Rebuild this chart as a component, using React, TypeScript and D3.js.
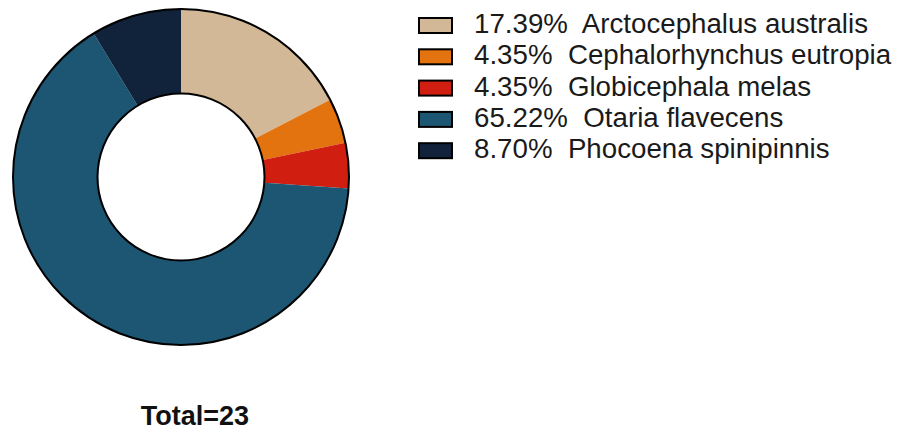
import React, { useRef, useEffect } from 'react';
import * as d3 from 'd3';

// species counts read from the donut (total 23)
const species = ['Arctocephalus australis', 'Cephalorhynchus eutropia', 'Globicephala melas', 'Otaria flavecens', 'Phocoena spinipinnis'];
const counts = [4, 1, 1, 15, 2];
const colors = ['#D2B896', '#E3730F', '#D01F10', '#1D5673', '#11233A'];

const App = () => {
  const svgRef = useRef<SVGSVGElement>(null);

  useEffect(() => {
    const width = 903;
    const height = 432;
    const cx = 181;
    const cy = 177;
    const outerR = 168;
    const innerR = 83.5;

    const svg = d3.select(svgRef.current)
      .attr('width', width)
      .attr('height', height);
    svg.selectAll('*').remove();

    const data = species.map((name, i) => ({ name, count: counts[i], color: colors[i] }));
    const total = d3.sum(counts);

    // --- donut ---
    const pie = d3.pie<any>().sort(null).value(d => d.count);
    const arc = d3.arc<any>().innerRadius(innerR).outerRadius(outerR);

    const g = svg.append('g').attr('transform', `translate(${cx},${cy})`);
    g.selectAll('path.slice')
      .data(pie(data))
      .enter().append('path')
      .attr('class', 'slice')
      .attr('d', arc)
      .attr('fill', d => d.data.color);

    // black rings on the outer and inner edge
    [outerR, innerR].forEach(r => {
      g.append('circle')
        .attr('r', r)
        .attr('fill', 'none')
        .attr('stroke', '#000')
        .attr('stroke-width', 2);
    });

    // --- legend ---
    const legend = svg.append('g').attr('transform', 'translate(418,17)');
    const rowH = 31.3;
    const rows = legend.selectAll('g.row')
      .data(data)
      .enter().append('g')
      .attr('class', 'row')
      .attr('transform', (d, i) => `translate(0,${i * rowH})`);

    rows.append('rect')
      .attr('x', 1)
      .attr('y', 1)
      .attr('width', 33)
      .attr('height', 15)
      .attr('fill', d => d.color)
      .attr('stroke', '#000')
      .attr('stroke-width', 2);

    rows.append('text')
      .attr('x', 56)
      .attr('y', 16)
      .style('font-family', '"Liberation Sans", Arial, sans-serif')
      .style('font-size', '27.7px')
      .style('white-space', 'pre')
      .attr('fill', '#1a1a1a')
      .text(d => `${(d.count / total * 100).toFixed(2)}%  ${d.name}`);

    // --- total label ---
    svg.append('text')
      .attr('x', 195)
      .attr('y', 425)
      .attr('text-anchor', 'middle')
      .style('font-family', '"Liberation Sans", Arial, sans-serif')
      .style('font-size', '27px')
      .style('font-weight', 'bold')
      .attr('fill', '#111')
      .text(`Total=${total}`);
  }, []);

  return (
    <div style={{ position: 'absolute', left: 0, top: 0 }}>
      <svg ref={svgRef}></svg>
    </div>
  );
};

export default App;
